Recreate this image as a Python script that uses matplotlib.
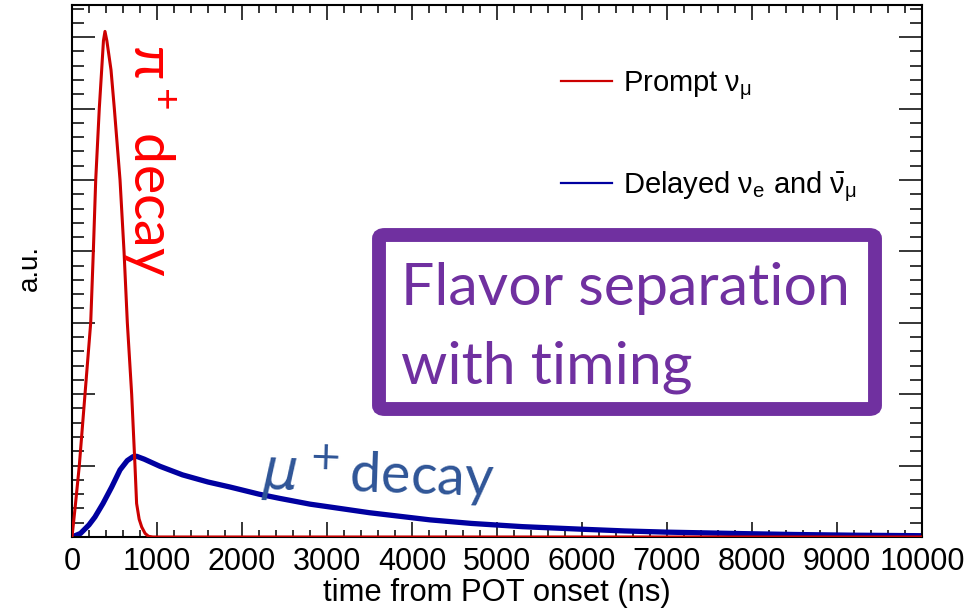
import numpy as np
import matplotlib
matplotlib.use("Agg")
import matplotlib.pyplot as plt
from matplotlib.patches import FancyBboxPatch
from matplotlib.ticker import MultipleLocator

# prompt nu_mu from pi+ decay (time in ns, arbitrary units)
prompt_t = [0, 40, 86, 153, 220, 251, 279, 321, 349, 370, 388, 410, 459, 498,
            565, 612, 651, 702, 741, 760, 790, 820, 860, 900, 950, 10000]
prompt_y = [0, 0.45, 1.0, 2.0, 3.0, 4.0, 5.0, 6.0, 6.54, 6.95, 7.08, 6.95, 6.54, 6.0,
            5.0, 4.0, 3.0, 2.0, 1.0, 0.47, 0.25, 0.14, 0.05, 0.01, 0.0, 0.0]

# delayed nu_e and nu_mu-bar from mu+ decay
delayed_t = [0, 100, 200, 270, 365, 467, 565, 650, 718, 760, 850, 1035, 1300, 1600,
             1859, 2200, 2447, 2800, 3035, 3500, 4212, 4700, 5300, 5976, 6500, 7000,
             7859, 8500, 9200, 10000]
delayed_y = [0, 0.05, 0.17, 0.28, 0.47, 0.70, 0.94, 1.07, 1.125, 1.13, 1.09, 0.99, 0.87, 0.77,
             0.70, 0.60, 0.54, 0.46, 0.42, 0.34, 0.24, 0.19, 0.145, 0.11, 0.085, 0.068,
             0.048, 0.035, 0.025, 0.018]

W, H = 968, 612
def fx(p):
    return p / W
def fy(p):
    return 1 - p / H

plt.rcParams['font.family'] = ['Liberation Sans', 'DejaVu Sans']
plt.rcParams['mathtext.fontset'] = 'dejavusans'

fig = plt.figure(figsize=(W / 100, H / 100), dpi=100)
ax = fig.add_axes([fx(72), fy(537), (922 - 72) / W, (537 - 5) / H])

ax.plot(prompt_t, prompt_y, color='#CC0000', lw=2.2, label=r'Prompt $\mathregular{\nu_\mu}$', zorder=3)
ax.plot(delayed_t, delayed_y, color='#0000A0', lw=3.8,
        label=r'Delayed $\mathregular{\nu_e}$ and $\mathregular{\bar{\nu}_\mu}$', zorder=2)

ax.set_xlim(0, 10000)
ax.set_ylim(0, 7.45)
ax.xaxis.set_major_locator(MultipleLocator(1000))
ax.xaxis.set_minor_locator(MultipleLocator(200))
ax.yaxis.set_major_locator(MultipleLocator(1))
ax.yaxis.set_minor_locator(MultipleLocator(0.2))
ax.tick_params(axis='both', which='both', direction='in', top=True, right=True,
               width=1.1, labelsize=22)
ax.tick_params(axis='x', which='major', length=10.8, pad=7)
ax.tick_params(axis='x', which='minor', length=5.4)
ax.tick_params(axis='y', which='major', length=16.6)
ax.tick_params(axis='y', which='minor', length=8.6)
ax.set_yticklabels([])
for s in ax.spines.values():
    s.set_linewidth(1.5)

ax.set_xlabel('time from POT onset (ns)', fontsize=22.3, labelpad=1)
fig.text(fx(30), fy(268), 'a.u.', rotation=90, fontsize=20, ha='center', va='center')

leg = ax.legend(loc='upper left', bbox_to_anchor=(fx(546), fy(55)), bbox_transform=fig.transFigure,
                frameon=False, fontsize=21, handlelength=1.75, handletextpad=0.4,
                labelspacing=2.3, borderpad=0)
for ln in leg.get_lines():
    ln.set_linewidth(1.6)

annot_font = ['Lato', 'DejaVu Sans']
fig.text(fx(150), fy(160), r'π$\mathregular{^+}$ decay', rotation=-90, color='#FF0000',
         fontsize=40, family=annot_font, ha='center', va='center')
fig.text(fx(378), fy(476), r'$\mu^+$decay', rotation=-2, color='#2F5597',
         fontsize=40, family=annot_font, ha='center', va='center')

box = FancyBboxPatch((fx(379), fy(409)), fx(875) - fx(379), fy(235) - fy(409),
                     boxstyle='round,pad=0,rounding_size=0.006', transform=fig.transFigure,
                     facecolor='white', edgecolor='#7030A0', lw=10, zorder=5)
fig.patches.append(box)
for line, base in [('Flavor separation', 305), ('with timing', 383)]:
    fig.text(fx(401), fy(base), line, color='#7030A0', fontsize=42.5,
             family=annot_font, ha='left', va='baseline', zorder=6)

fig.savefig('out.png', dpi=100)
